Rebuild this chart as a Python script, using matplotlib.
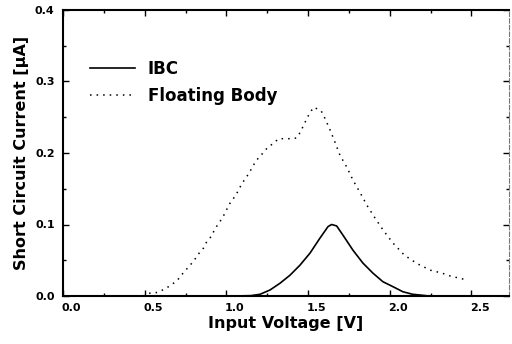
import matplotlib
matplotlib.use("Agg")
import matplotlib.pyplot as plt
from matplotlib.ticker import MultipleLocator
from matplotlib.transforms import ScaledTranslation

plt.rcParams["font.family"] = ["DejaVu Sans"]
plt.rcParams["font.weight"] = "bold"

# IBC (solid)
ibc_v = [1.05, 1.15, 1.206, 1.267, 1.328, 1.389, 1.450, 1.512, 1.573, 1.622,
         1.644, 1.675, 1.714, 1.775, 1.836, 1.897, 1.958, 2.02, 2.08, 2.14,
         2.23, 2.35]
ibc_i = [0.0, 0.0005, 0.0024, 0.0084, 0.0178, 0.029, 0.043, 0.060, 0.081,
         0.097, 0.100, 0.098, 0.085, 0.064, 0.046, 0.032, 0.020, 0.013, 0.006,
         0.0024, 0.0003, 0.0]

# Floating Body (dotted)
fb_v = [0.49, 0.532, 0.58, 0.624, 0.66, 0.70, 0.735, 0.77, 0.80, 0.83, 0.86,
        0.88, 0.91, 0.93, 0.955, 0.98, 1.00, 1.02, 1.045, 1.07, 1.09, 1.115,
        1.14, 1.16, 1.185, 1.22, 1.25, 1.29, 1.32, 1.36, 1.40, 1.43, 1.455,
        1.475, 1.495, 1.51, 1.535, 1.58, 1.60, 1.63, 1.665, 1.695, 1.74,
        1.775, 1.82, 1.86, 1.91, 1.96, 2.02, 2.09, 2.17, 2.25, 2.32, 2.37,
        2.48]
fb_i = [0.0, 0.004, 0.005, 0.010, 0.015, 0.022, 0.032, 0.041, 0.049, 0.059,
        0.067, 0.076, 0.084, 0.094, 0.102, 0.111, 0.120, 0.129, 0.137, 0.146,
        0.155, 0.164, 0.172, 0.181, 0.190, 0.199, 0.207, 0.214, 0.220, 0.220,
        0.220, 0.221, 0.230, 0.240, 0.249, 0.256, 0.264, 0.259, 0.250, 0.235,
        0.215, 0.197, 0.179, 0.162, 0.144, 0.127, 0.109, 0.092, 0.074, 0.057,
        0.045, 0.036, 0.032, 0.028, 0.022]

fig = plt.figure(figsize=(5.12, 3.44), dpi=100)
ax = fig.add_axes([63 / 512, 1 - 296 / 344, (509 - 63) / 512, (296 - 10) / 344])

ax.plot(ibc_v, ibc_i, color="black", lw=1.2, label="IBC")
ax.plot(fb_v, fb_i, color="black", lw=1.1, linestyle=(0, (1, 3.3)),
        label="Floating Body")

ax.set_xlim(0, 2.73)
ax.set_ylim(0, 0.4)
ax.xaxis.set_major_locator(MultipleLocator(0.5))
ax.xaxis.set_minor_locator(MultipleLocator(0.25))
ax.yaxis.set_major_locator(MultipleLocator(0.1))
ax.yaxis.set_minor_locator(MultipleLocator(0.05))
ax.xaxis.set_major_formatter(lambda v, p: f"{v:.1f}")
ax.yaxis.set_major_formatter(lambda v, p: f"{v:.1f}")

ax.tick_params(which="both", direction="in", top=True, right=True,
               labelsize=8, width=1.0)
ax.tick_params(which="major", length=4)
ax.tick_params(which="minor", length=2)
ax.tick_params(axis="x", pad=5)
ax.tick_params(axis="y", pad=6)

for lab in ax.get_xticklabels():
    lab.set_transform(lab.get_transform() + ScaledTranslation(0.085, 0, fig.dpi_scale_trans))

for side in ["left", "bottom", "top"]:
    ax.spines[side].set_linewidth(1.5)
ax.spines["right"].set_linewidth(0.8)
ax.spines["right"].set_color("#777777")
ax.spines["right"].set_linestyle((0, (4, 2)))

ax.set_xlabel("Input Voltage [V]", fontsize=11.5, fontweight="bold", labelpad=2)
ax.set_ylabel("Short Circuit Current [µA]", fontsize=11.5, fontweight="bold", labelpad=4)

ax.legend(loc="upper left", bbox_to_anchor=(0.061, 0.825), frameon=False,
          borderaxespad=0, borderpad=0, handlelength=2.7, handletextpad=0.75,
          labelspacing=0.55, prop={"weight": "bold", "size": 12})

fig.savefig("out.png", dpi=100)
